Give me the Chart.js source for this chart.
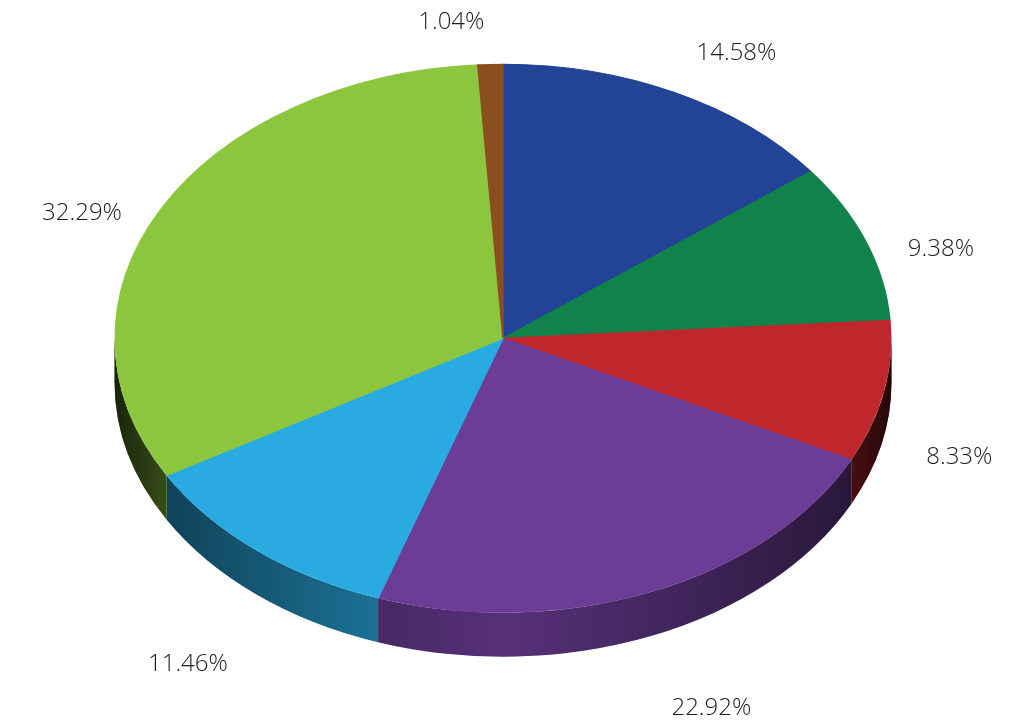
<!DOCTYPE html>
<html>
<head>
<meta charset="utf-8">
<style>
  html, body { margin: 0; padding: 0; background: #fff; }
  canvas { display: block; }
</style>
<script src="https://cdn.jsdelivr.net/npm/chart.js@4/dist/chart.umd.min.js"></script>
</head>
<body>
<canvas id="chart" width="1030" height="726"></canvas>
<script>
const values = [14.58, 9.38, 8.33, 22.92, 11.46, 32.29, 1.04];
const sliceColors = ['#224396', '#11824b', '#bf272d', '#6b3d97', '#29abe2', '#8cc63f', '#8b4f1f'];

// label centre, relative to the middle of each slice's outer edge
const labelOffsets = [[62, -39], [75, 7], [76, 65], [60, 117], [-69, 114], [-79, 4], [-39, -42]];

const squash = 388.5 / 274.5; // pie is laid out as a circle, then stretched to an ellipse
const depth = 44;

// Side wall of the pie, below the slices. Only the front half is visible.
const drawWalls = (ctx, arcs) => {
  const { x: cx, y: cy, outerRadius } = arcs[0];
  const r = outerRadius + 0.5; // half of the 1px slice border
  const rx = r * squash;
  const shade = ctx.createLinearGradient(cx - rx, 0, cx + rx, 0);
  shade.addColorStop(0, 'rgba(0,0,0,0.82)');
  shade.addColorStop(0.067, 'rgba(0,0,0,0.61)');
  shade.addColorStop(0.338, 'rgba(0,0,0,0.34)');
  shade.addColorStop(0.5, 'rgba(0,0,0,0.2)');
  shade.addColorStop(0.75, 'rgba(0,0,0,0.42)');
  shade.addColorStop(0.947, 'rgba(0,0,0,0.61)');
  shade.addColorStop(1, 'rgba(0,0,0,0.8)');

  arcs.forEach((arc, i) => {
    const from = Math.max(arc.startAngle, 0);
    const to = Math.min(arc.endAngle, Math.PI);
    if (from >= to) return;
    ctx.beginPath();
    ctx.ellipse(cx, cy, rx, r, 0, from, to);
    ctx.ellipse(cx, cy + depth, rx, r, 0, to, from, true);
    ctx.closePath();
    ctx.fillStyle = sliceColors[i];
    ctx.fill();
    ctx.fillStyle = shade;
    ctx.fill();
  });
};

const drawLabels = (ctx, arcs) => {
  ctx.font = '300 24px "Open Sans"';
  ctx.fillStyle = '#1c1c1c';
  ctx.textAlign = 'center';
  ctx.textBaseline = 'middle';
  arcs.forEach((arc, i) => {
    const mid = (arc.startAngle + arc.endAngle) / 2;
    const x = arc.x + arc.outerRadius * squash * Math.cos(mid) + labelOffsets[i][0];
    const y = arc.y + arc.outerRadius * Math.sin(mid) + labelOffsets[i][1];
    ctx.fillText(values[i].toFixed(2) + '%', x, y);
  });
};

const pie3d = {
  id: 'pie3d',
  beforeDatasetsDraw(chart) {
    const ctx = chart.ctx;
    const arcs = chart.getDatasetMeta(0).data;
    drawWalls(ctx, arcs);
    ctx.save();
    ctx.translate(arcs[0].x, 0);
    ctx.scale(squash, 1);
    ctx.translate(-arcs[0].x, 0);
  },
  afterDatasetsDraw(chart) {
    chart.ctx.restore();
    drawLabels(chart.ctx, chart.getDatasetMeta(0).data);
  }
};

new Chart(document.getElementById('chart').getContext('2d'), {
  type: 'pie',
  data: {
    labels: values.map(v => v.toFixed(2) + '%'),
    datasets: [{
      data: values,
      backgroundColor: sliceColors,
      borderColor: sliceColors,
      borderWidth: 1,
      clip: false,
    }],
  },
  options: {
    responsive: false,
    animation: false,
    layout: { padding: { left: 228.5, right: 252.5, top: 63.5, bottom: 113 } },
    plugins: { legend: { display: false }, tooltip: { enabled: false } },
  },
  plugins: [pie3d],
});
</script>
</body>
</html>
